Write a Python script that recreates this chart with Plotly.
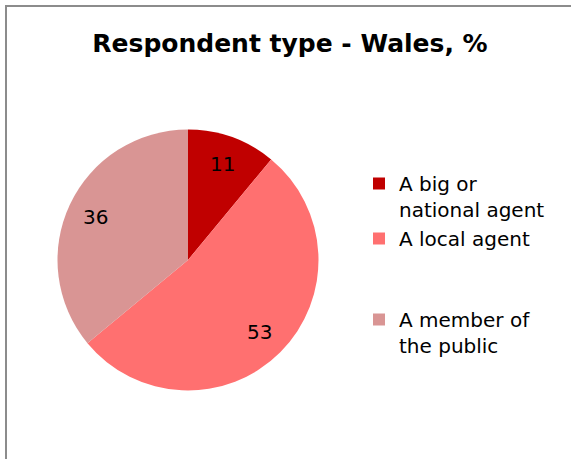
import math
import plotly.graph_objects as go

# Respondent type shares for Wales (%)
categories = ["A big or national agent", "A local agent", "A member of the public"]
shares = [11, 53, 36]
legend_labels = ["A big or<br>national agent", "A local agent<br> <br> ", "A member of<br>the public"]
slice_colors = ["#C00000", "#FF7070", "#D99594"]

W, H = 571, 459
FONT = "DejaVu Sans, Verdana, sans-serif"

# Pie placement in pixels (centre and radius)
cx_px, cy_px, r_px = 188.0, 260.0, 130.5
dom_x = [(cx_px - r_px) / W, (cx_px + r_px) / W]
dom_y = [(H - cy_px - r_px) / H, (H - cy_px + r_px) / H]

fig = go.Figure(
    go.Pie(
        labels=legend_labels,
        values=shares,
        sort=False,
        direction="clockwise",
        rotation=0,
        marker=dict(colors=slice_colors, line=dict(width=0)),
        textinfo="none",
        hoverinfo="label+value",
        domain=dict(x=dom_x, y=dom_y),
    )
)

# Value labels placed along each slice's mid-angle
total = sum(shares)
cum = 0.0
label_frac = 0.78
annotations = []
for v in shares:
    mid = (cum + v / 2.0) / total * 2 * math.pi
    cum += v
    px = cx_px + label_frac * r_px * math.sin(mid)
    py = cy_px - label_frac * r_px * math.cos(mid)
    annotations.append(
        dict(
            x=px / W, y=1 - py / H, xref="paper", yref="paper",
            text=str(v), showarrow=False, xanchor="center", yanchor="middle",
            font=dict(family=FONT, size=20, color="#000000"),
        )
    )

fig.update_layout(
    width=W,
    height=H,
    margin=dict(l=0, r=0, t=0, b=0),
    paper_bgcolor="#FFFFFF",
    plot_bgcolor="#FFFFFF",
    title=dict(
        text="<b>Respondent type - Wales, %</b>",
        x=290 / W, xanchor="center", xref="paper",
        y=1 - 43 / H, yanchor="middle", yref="container",
        font=dict(family=FONT, size=25, color="#000000"),
    ),
    legend=dict(
        x=359 / W, xanchor="left",
        y=1 - 164 / H, yanchor="top",
        valign="top",
        font=dict(family=FONT, size=20, color="#000000"),
        bgcolor="rgba(0,0,0,0)",
        borderwidth=0,
        itemclick=False,
    ),
    showlegend=True,
    annotations=annotations,
    shapes=[
        dict(
            type="rect", xref="paper", yref="paper",
            x0=6 / W, x1=1.1, y0=-0.1, y1=1 - 6 / H,
            line=dict(color="#8C8C8C", width=2),
            fillcolor="rgba(0,0,0,0)", layer="below",
        )
    ],
)

fig.write_html("out.html")
